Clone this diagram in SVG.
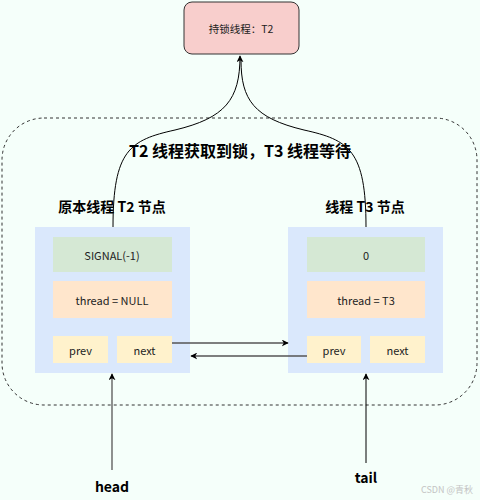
<svg xmlns="http://www.w3.org/2000/svg" width="480" height="500" viewBox="0 0 480 500">
<style>
.t{font-family:"Noto Sans CJK SC","Liberation Sans",sans-serif;fill:#222;text-anchor:middle;dominant-baseline:central}
.b{font-weight:bold;fill:#000}
.c{fill:none;stroke:#000;stroke-width:1}
.s{fill:none;stroke:#555;stroke-width:1.3}
.node{fill:#dae8fc}
</style>
<defs>
<marker id="ah" viewBox="0 0 10 10" refX="9" refY="5" markerWidth="7" markerHeight="7" orient="auto-start-reverse" markerUnits="userSpaceOnUse">
<path d="M0,0 L10,5 L0,10 L3,5 Z" fill="#000"/>
</marker>
</defs>
<rect width="480" height="500" fill="#f5fffa"/>
<rect x="2" y="118" width="475" height="287" rx="42" fill="none" stroke="#333" stroke-dasharray="3,3"/>
<g id="lock">
<rect x="184" y="2" width="115" height="52" rx="8" fill="#f8cecc" stroke="#333"/>
<text class="t" x="241" y="28" font-size="10.5">持锁线程：T2</text>
</g>
<text class="t b" x="240" y="150" font-size="16">T2 线程获取到锁，T3 线程等待</text>
<text class="t b" x="112" y="206" font-size="14">原本线程 T2 节点</text>
<text class="t b" x="365" y="206" font-size="14">线程 T3 节点</text>
<g id="nodeT2">
<rect class="node" x="35" y="227" width="155" height="146"/>
<rect x="53" y="237" width="119" height="35" fill="#d5e8d4"/>
<text class="t" x="112" y="254.5" font-size="11">SIGNAL(-1)</text>
<rect x="53" y="281" width="119" height="37" fill="#ffe6cc"/>
<text class="t" x="112" y="299.5" font-size="11">thread = NULL</text>
<rect x="53" y="336" width="55" height="27" fill="#fff2cc"/>
<text class="t" x="80.5" y="349.5" font-size="11">prev</text>
<rect x="117" y="336" width="55" height="27" fill="#fff2cc"/>
<text class="t" x="144.5" y="349.5" font-size="11">next</text>
</g>
<g id="nodeT3">
<rect class="node" x="288" y="227" width="155" height="146"/>
<rect x="307" y="237" width="118" height="35" fill="#d5e8d4"/>
<text class="t" x="366" y="254.5" font-size="11">0</text>
<rect x="307" y="281" width="118" height="37" fill="#ffe6cc"/>
<text class="t" x="366" y="299.5" font-size="11">thread = T3</text>
<rect x="307" y="336" width="54" height="27" fill="#fff2cc"/>
<text class="t" x="334" y="349.5" font-size="11">prev</text>
<rect x="370" y="336" width="55" height="27" fill="#fff2cc"/>
<text class="t" x="397.5" y="349.5" font-size="11">next</text>
</g>
<g id="connectors">
<path class="c" d="M113,227 C113,150 130,140 175,130 C225,118 240,100 240,56" marker-end="url(#ah)"/>
<path class="c" d="M366,227 C366,150 349,140 304,130 C254,118 241,100 241,60"/>
<path class="s" d="M172,343 L288,343" marker-end="url(#ah)"/>
<path class="s" d="M307,356 L191,356" marker-end="url(#ah)"/>
<path class="s" d="M112,470 L112,374" marker-end="url(#ah)"/>
<path class="c" d="M366,463 L366,374" marker-end="url(#ah)"/>
</g>
<text class="t b" x="112" y="486" font-size="14">head</text>
<text class="t b" x="366" y="477" font-size="14">tail</text>
<text class="t" x="447" y="489" font-size="9" style="fill:#c4c4c4">CSDN @青秋</text>
</svg>
